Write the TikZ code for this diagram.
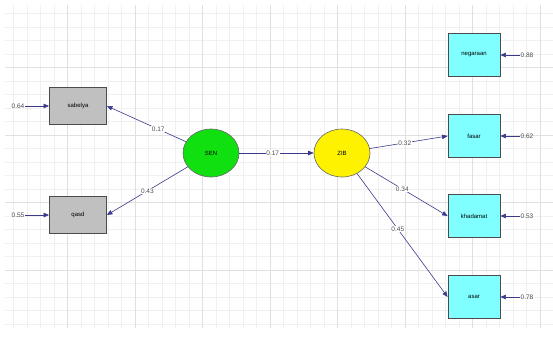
\documentclass[tikz,border=0pt]{standalone}
\usepackage{fontspec}
\setmainfont{Liberation Sans}
\usetikzlibrary{arrows.meta,shapes.geometric}
\definecolor{pathc}{HTML}{3A3A8C}
\definecolor{obsc}{HTML}{7FFFFF}
\definecolor{greyc}{HTML}{C0C0C0}
\definecolor{greenc}{HTML}{10E010}
\tikzset{
  obsbox/.style={draw=black!70,line width=0.8pt,fill=obsc,minimum width=52pt,minimum height=43pt,inner sep=0pt,font=\fontsize{6}{7}\selectfont},
  greybox/.style={draw=black!70,line width=0.8pt,fill=greyc,minimum width=57pt,minimum height=37pt,inner sep=0pt,font=\fontsize{6}{7}\selectfont},
  latent/.style={ellipse,draw=black!60,line width=0.6pt,minimum width=56pt,minimum height=48pt,inner sep=0pt,font=\fontsize{6}{7}\selectfont},
  pth/.style={draw=pathc,line width=0.6pt,-{Triangle[length=5.5pt,width=4.5pt]}},
  val/.style={font=\fontsize{6.5}{7}\selectfont,text=black!70,fill=white,inner sep=0.8pt},
  errv/.style={font=\fontsize{6.5}{7}\selectfont,text=black!70,inner sep=0.8pt}
}
\begin{document}
\begin{tikzpicture}[x=1pt,y=-1pt]
\useasboundingbox (0,0) rectangle (553,350);
\fill[white] (0,0) rectangle (553,350);
\draw[black!6,line width=0.4pt] (5,5) grid[step=13.5pt] (553,328);
\draw[black!12,line width=0.5pt] (5,5) grid[step=67.5pt] (553,328);
% latent
\node[latent,fill=greenc] (ben) at (211,153) {SEN};
\node[latent,fill=yellow] (zib) at (342,153) {ZIB};
% observed left
\node[greybox] (sab) at (78,106) {sabelya};
\node[greybox] (qas) at (78,215) {qasd};
% observed right
\node[obsbox] (neg) at (474,55) {negaraan};
\node[obsbox] (fas) at (474,136) {fasar};
\node[obsbox] (kha) at (474,216) {khadamat};
\node[obsbox] (asa) at (474,297) {asar};
% error values
\node[errv] (e1) at (18,106) {0.64};
\node[errv] (e2) at (18,215) {0.55};
\node[errv] (e3) at (527,55) {0.88};
\node[errv] (e4) at (527,136) {0.62};
\node[errv] (e5) at (527,216) {0.53};
\node[errv] (e6) at (527,297) {0.78};
\draw[pth] (e1) -- (sab);
\draw[pth] (e2) -- (qas);
\draw[pth] (e3) -- (neg);
\draw[pth] (e4) -- (fas);
\draw[pth] (e5) -- (kha);
\draw[pth] (e6) -- (asa);
% paths
\draw[pth] (ben) -- node[val,pos=0.35] {0.17} (sab.east);
\draw[pth] (ben) -- node[val,pos=0.5] {0.43} (qas.east);
\draw[pth] (ben) -- node[val,pos=0.45] {0.17} (zib);
\draw[pth] (zib) -- node[val,pos=0.45] {0.32} (fas.west);
\draw[pth] (zib) -- node[val,pos=0.45] {0.34} (kha.west);
\draw[pth] (zib) -- node[val,pos=0.45] {0.45} (asa.west);
\end{tikzpicture}
\end{document}
